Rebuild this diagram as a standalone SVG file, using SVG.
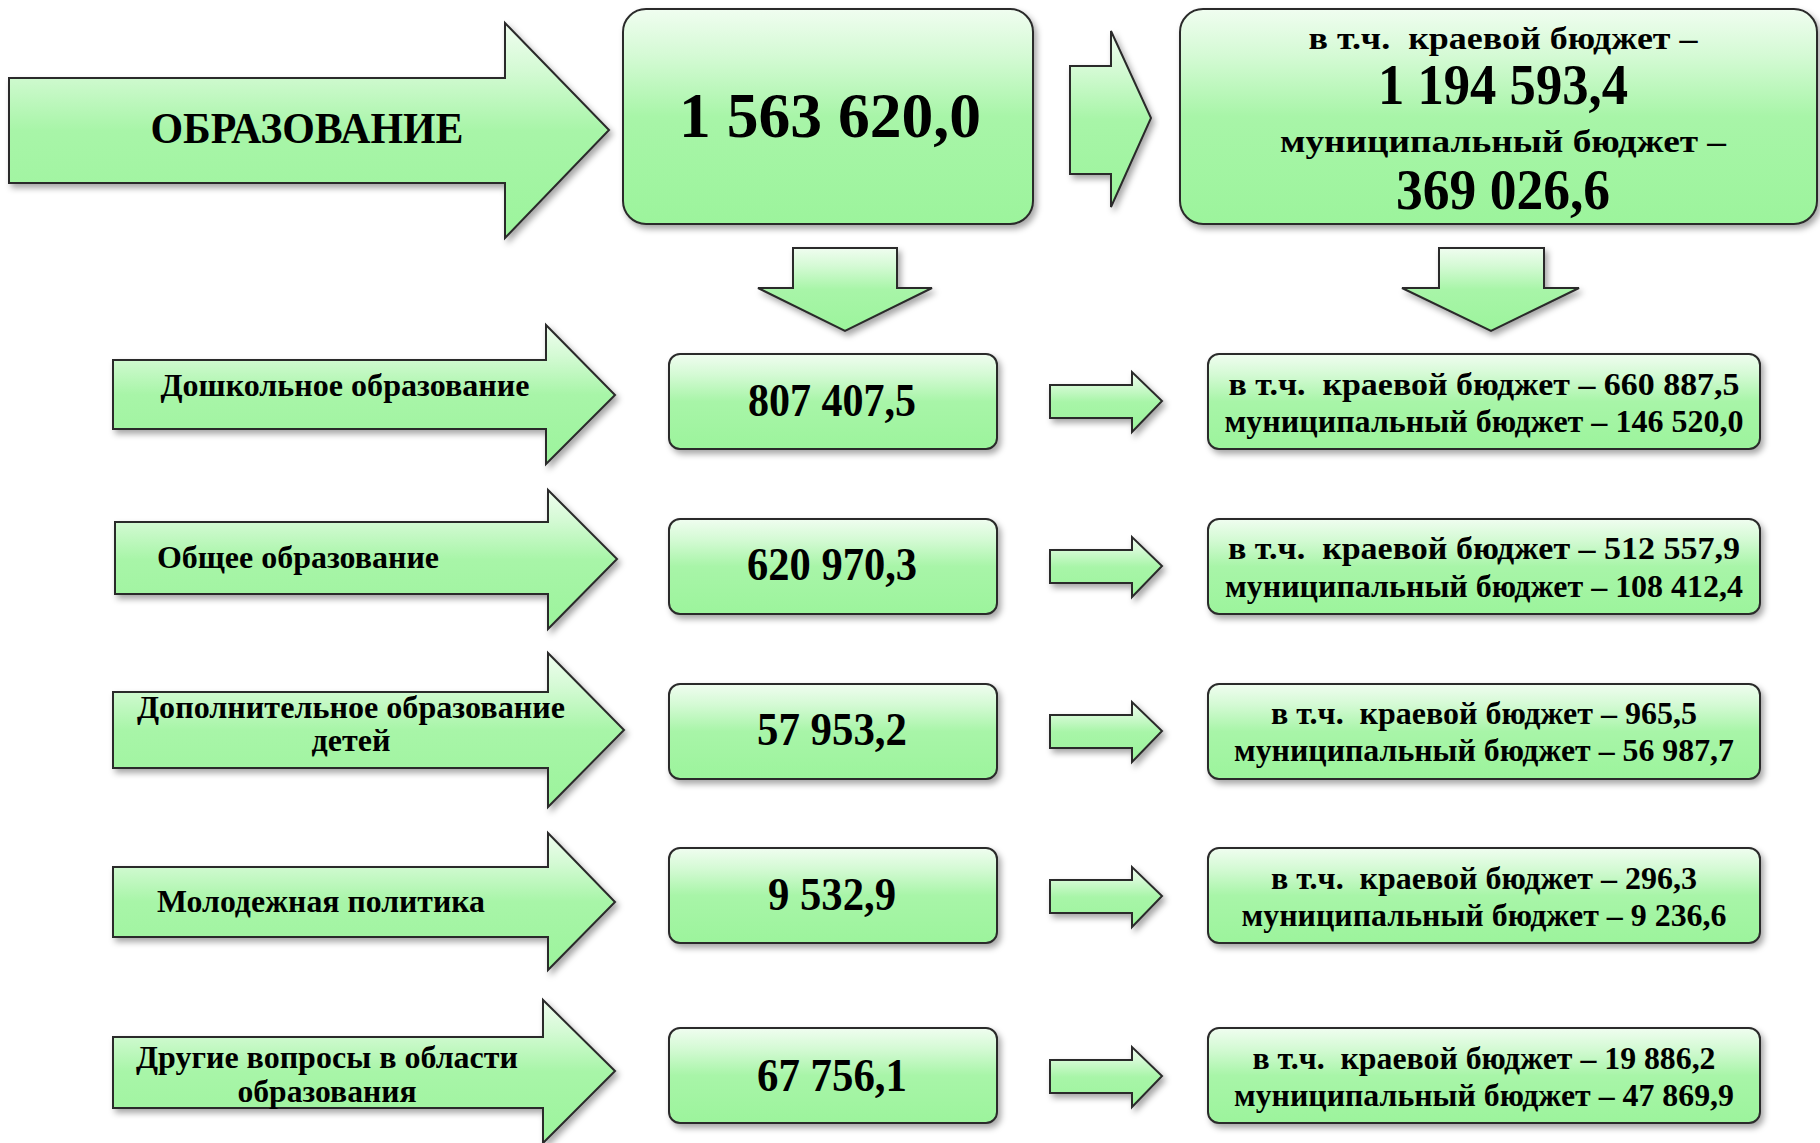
<svg xmlns="http://www.w3.org/2000/svg" width="1820" height="1143" viewBox="0 0 1820 1143">
<defs>
  <linearGradient id="g" x1="0" y1="0" x2="0" y2="1">
    <stop offset="0" stop-color="#f0fdf0"/>
    <stop offset="0.22" stop-color="#d4fad4"/>
    <stop offset="0.5" stop-color="#a8f5a8"/>
    <stop offset="1" stop-color="#9cf49c"/>
  </linearGradient>
  <linearGradient id="gh" x1="0" y1="0" x2="0" y2="1">
    <stop offset="0" stop-color="#ffffff" stop-opacity="0"/>
    <stop offset="0.5" stop-color="#ffffff" stop-opacity="0.85"/>
    <stop offset="1" stop-color="#ffffff" stop-opacity="0"/>
  </linearGradient>
  <filter id="sh" x="-5%" y="-10%" width="115%" height="130%">
    <feDropShadow dx="3" dy="4" stdDeviation="3" flood-color="#000" flood-opacity="0.35"/>
  </filter>
</defs>
<style>
  .s { fill: url(#g); stroke: #2a2a2a; stroke-width: 2; filter: url(#sh); }
  .hl { fill: none; stroke: url(#gh); stroke-width: 3; stroke-linecap: round; }
  text { font-family: "Liberation Serif", "Times New Roman", serif; font-weight: bold; fill: #000; text-anchor: middle; }
  .t30 { font-size: 31px; }
  .t32 { font-size: 32px; }
  .n44 { font-size: 46px; }
</style>
<rect width="1820" height="1143" fill="#ffffff"/>

<g id="connectors">
  <polygon class="s" points="1070,66 1111,66 1111,31 1151,118 1111,207 1111,174 1070,174"/>
  <polygon class="s" points="793,248 897,248 897,288 932,288 845,331 758,288 793,288"/>
  <polygon class="s" points="1439,248 1544,248 1544,288 1579,288 1491,331 1402,288 1439,288"/>
  <polygon class="s" points="1050,385 1132,385 1132,372 1162,401 1132,432 1132,418 1050,418"/>
  <polygon class="s" points="1050,550 1132,550 1132,537 1162,566 1132,597 1132,583 1050,583"/>
  <polygon class="s" points="1050,715 1132,715 1132,702 1162,731 1132,762 1132,748 1050,748"/>
  <polygon class="s" points="1050,880 1132,880 1132,867 1162,896 1132,927 1132,913 1050,913"/>
  <polygon class="s" points="1050,1060 1132,1060 1132,1047 1162,1076 1132,1107 1132,1093 1050,1093"/>
</g>

<g id="n-obrazovanie">
  <polygon class="s" points="9,78 505,78 505,23 609,130 505,238 505,183 9,183"/>
  <line class="hl" x1="18" y1="95" x2="18" y2="170"/>
  <text x="307" y="143" font-size="44" textLength="313" lengthAdjust="spacingAndGlyphs">ОБРАЗОВАНИЕ</text>
</g>

<g id="n-total">
  <rect class="s" x="623" y="9" width="410" height="215" rx="23"/>
  <line class="hl" x1="634" y1="40" x2="634" y2="200"/>
  <line class="hl" x1="1022" y1="40" x2="1022" y2="200"/>
  <text x="830" y="137" font-size="64" textLength="302" lengthAdjust="spacingAndGlyphs">1 563 620,0</text>
</g>

<g id="n-total-split">
  <rect class="s" x="1180" y="9" width="637" height="215" rx="23"/>
  <line class="hl" x1="1191" y1="40" x2="1191" y2="200"/>
  <text x="1503" y="49" class="t32" textLength="389" lengthAdjust="spacingAndGlyphs" xml:space="preserve">в т.ч.  краевой бюджет –</text>
  <text x="1503" y="104" font-size="56" textLength="250" lengthAdjust="spacingAndGlyphs">1 194 593,4</text>
  <text x="1503" y="152" class="t32" textLength="446" lengthAdjust="spacingAndGlyphs">муниципальный бюджет –</text>
  <text x="1503" y="209" font-size="56" textLength="214" lengthAdjust="spacingAndGlyphs">369 026,6</text>
</g>

<!-- Row 1 -->
<g id="n-row1-label">
  <polygon class="s" points="113,360 546,360 546,325 615,395 546,464 546,429 113,429"/>
  <line class="hl" x1="121" y1="370" x2="121" y2="420"/>
  <text x="345" y="396" class="t30" textLength="369" lengthAdjust="spacingAndGlyphs">Дошкольное образование</text>
</g>
<g id="n-row1-total">
  <rect class="s" x="669" y="354" width="328" height="95" rx="11"/>
  <line class="hl" x1="678" y1="366" x2="678" y2="437"/>
  <line class="hl" x1="988" y1="366" x2="988" y2="437"/>
  <text x="832" y="416" class="n44" textLength="168" lengthAdjust="spacingAndGlyphs">807 407,5</text>
</g>
<g id="n-row1-split">
  <rect class="s" x="1208" y="354" width="552" height="95" rx="11"/>
  <text x="1484" y="395" class="t32" textLength="511" lengthAdjust="spacingAndGlyphs" xml:space="preserve">в т.ч.  краевой бюджет – 660 887,5</text>
  <text x="1484" y="432" class="t32" textLength="519" lengthAdjust="spacingAndGlyphs">муниципальный бюджет – 146 520,0</text>
</g>

<!-- Row 2 -->
<g id="n-row2-label">
  <polygon class="s" points="115,522 548,522 548,490 617,559 548,629 548,594 115,594"/>
  <line class="hl" x1="123" y1="532" x2="123" y2="585"/>
  <text x="298" y="568" class="t30" textLength="282" lengthAdjust="spacingAndGlyphs">Общее образование</text>
</g>
<g id="n-row2-total">
  <rect class="s" x="669" y="519" width="328" height="95" rx="11"/>
  <line class="hl" x1="678" y1="531" x2="678" y2="602"/>
  <line class="hl" x1="988" y1="531" x2="988" y2="602"/>
  <text x="832" y="580" class="n44" textLength="170" lengthAdjust="spacingAndGlyphs">620 970,3</text>
</g>
<g id="n-row2-split">
  <rect class="s" x="1208" y="519" width="552" height="95" rx="11"/>
  <text x="1484" y="559" class="t32" textLength="512" lengthAdjust="spacingAndGlyphs" xml:space="preserve">в т.ч.  краевой бюджет – 512 557,9</text>
  <text x="1484" y="597" class="t32" textLength="518" lengthAdjust="spacingAndGlyphs">муниципальный бюджет – 108 412,4</text>
</g>

<!-- Row 3 -->
<g id="n-row3-label">
  <polygon class="s" points="113,692 548,692 548,653 624,730 548,807 548,768 113,768"/>
  <line class="hl" x1="121" y1="702" x2="121" y2="758"/>
  <text x="351" y="718" class="t30" textLength="428" lengthAdjust="spacingAndGlyphs">Дополнительное образование</text>
  <text x="351" y="751" class="t30" textLength="79" lengthAdjust="spacingAndGlyphs">детей</text>
</g>
<g id="n-row3-total">
  <rect class="s" x="669" y="684" width="328" height="95" rx="11"/>
  <line class="hl" x1="678" y1="696" x2="678" y2="767"/>
  <line class="hl" x1="988" y1="696" x2="988" y2="767"/>
  <text x="832" y="745" class="n44" textLength="150" lengthAdjust="spacingAndGlyphs">57 953,2</text>
</g>
<g id="n-row3-split">
  <rect class="s" x="1208" y="684" width="552" height="95" rx="11"/>
  <text x="1484" y="724" class="t32" textLength="426" lengthAdjust="spacingAndGlyphs" xml:space="preserve">в т.ч.  краевой бюджет – 965,5</text>
  <text x="1484" y="761" class="t32" textLength="500" lengthAdjust="spacingAndGlyphs">муниципальный бюджет – 56 987,7</text>
</g>

<!-- Row 4 -->
<g id="n-row4-label">
  <polygon class="s" points="113,867 548,867 548,833 615,902 548,970 548,937 113,937"/>
  <line class="hl" x1="121" y1="877" x2="121" y2="928"/>
  <text x="321" y="912" class="t30" textLength="328" lengthAdjust="spacingAndGlyphs">Молодежная политика</text>
</g>
<g id="n-row4-total">
  <rect class="s" x="669" y="848" width="328" height="95" rx="11"/>
  <line class="hl" x1="678" y1="860" x2="678" y2="931"/>
  <line class="hl" x1="988" y1="860" x2="988" y2="931"/>
  <text x="832" y="910" class="n44" textLength="128" lengthAdjust="spacingAndGlyphs">9 532,9</text>
</g>
<g id="n-row4-split">
  <rect class="s" x="1208" y="848" width="552" height="95" rx="11"/>
  <text x="1484" y="889" class="t32" textLength="426" lengthAdjust="spacingAndGlyphs" xml:space="preserve">в т.ч.  краевой бюджет – 296,3</text>
  <text x="1484" y="926" class="t32" textLength="485" lengthAdjust="spacingAndGlyphs">муниципальный бюджет – 9 236,6</text>
</g>

<!-- Row 5 -->
<g id="n-row5-label">
  <polygon class="s" points="113,1037 543,1037 543,1000 615,1071 543,1143 543,1108 113,1108"/>
  <line class="hl" x1="121" y1="1047" x2="121" y2="1098"/>
  <text x="327" y="1068" class="t30" textLength="382" lengthAdjust="spacingAndGlyphs">Другие вопросы в области</text>
  <text x="327" y="1102" class="t30" textLength="179" lengthAdjust="spacingAndGlyphs">образования</text>
</g>
<g id="n-row5-total">
  <rect class="s" x="669" y="1028" width="328" height="95" rx="11"/>
  <line class="hl" x1="678" y1="1040" x2="678" y2="1111"/>
  <line class="hl" x1="988" y1="1040" x2="988" y2="1111"/>
  <text x="832" y="1091" class="n44" textLength="150" lengthAdjust="spacingAndGlyphs">67 756,1</text>
</g>
<g id="n-row5-split">
  <rect class="s" x="1208" y="1028" width="552" height="95" rx="11"/>
  <text x="1484" y="1069" class="t32" textLength="463" lengthAdjust="spacingAndGlyphs" xml:space="preserve">в т.ч.  краевой бюджет – 19 886,2</text>
  <text x="1484" y="1106" class="t32" textLength="500" lengthAdjust="spacingAndGlyphs">муниципальный бюджет – 47 869,9</text>
</g>
</svg>
